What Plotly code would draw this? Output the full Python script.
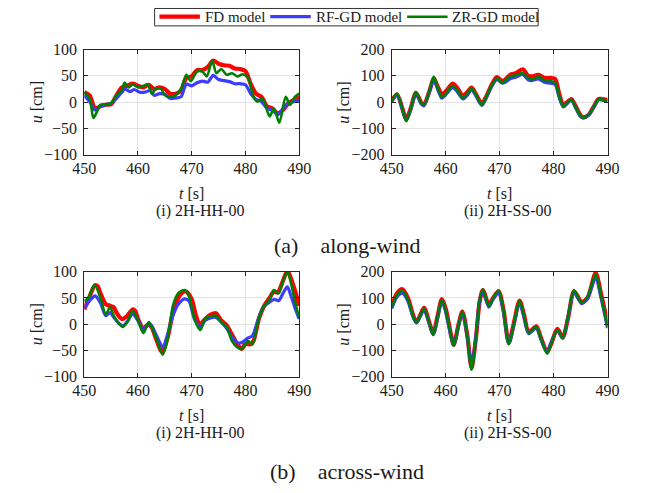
import plotly.graph_objects as go

W, H = 660, 493

# ---------------- data ----------------
# (a)(i) along-wind 2H-HH-00
t_a1_fd = [450,451,452,453,454,455,456,457,458,459,460,461,462,463,464,465,466,467,468,469,470,
           471,472,473,474,475,476,477,478,479,480,481,482,483,484,485,486,487,488,489,490]
u_a1_fd = [19,13,-12,-8,-5,-4,13,28,31,35,31,28,33,25,28,25,16,16,22,46,49,
           61,61,67,79,73,70,69,64,63,59,34,16,10,-8,-12,-21,-15,-2,4,10]
t_a1_rf = [450,451,452,453,454,455,456,457,457.6,458.5,459.3,460.3,461.3,462.3,463,464,465,466,467,468,469,470,
           471,472,473,474,475,476,477,478,479,480,481,482,483,484,485,486,487,488,489,490]
u_a1_rf = [13,1,-15,-8,-5,-2,7,19,25,20,24,19,19,22,13,16,15,7,8,10,34,31,
           37,40,38,51,43,41,39,35,35,33,16,5,1,-12,-15,-24,-12,-2,1,4]
t_a1_zr = [450,451,451.7,452.5,453,454,455,456,457,457.5,458.3,459,460,461,461.8,462.6,463.3,464.3,465,466,467,468,
           469,469.8,471,472,472.8,473.8,474.6,475.5,476.5,477.5,478.5,479.5,480.5,481.5,482.2,483,483.5,
           484.5,485.3,486.3,487.5,488.3,489.2,490]
u_a1_zr = [19,7,-30,-15,-5,-4,-2,14,22,37,28,34,28,31,34,16,25,25,13,10,13,25,
           52,40,58,58,49,79,55,63,52,55,49,53,46,10,1,7,1,
           -27,-12,-39,10,-5,10,16]

# (a)(ii) along-wind 2H-SS-00
t_a2 = [450,451,452,452.7,453.5,454.5,455.5,456,457,457.8,458.5,459.3,460,461.3,462,463.2,464,464.8,465.5,466.7,
        467.5,468.5,469.5,470.5,471,472,473,474.3,475.3,476,477.2,478.3,479.5,480.3,481,481.8,482.5,483.3,484,
        485,485.5,486.5,487.5,488.3,489,490]
u_a2_fd = [5,30,-25,-65,-25,35,-2,-8,42,90,60,30,40,70,58,25,38,55,35,-5,
           20,65,95,80,85,105,110,125,100,98,104,92,92,88,35,-10,0,12,-12,
           -50,-58,-48,-15,12,12,8]
u_a2_rf = [3,28,-30,-70,-30,33,-8,-14,40,85,50,15,28,55,44,12,26,47,28,-12,
           15,58,85,72,75,90,95,105,85,82,88,76,72,68,20,-18,-6,8,-18,
           -55,-60,-48,-18,8,8,3]
u_a2_zr = [5,32,-29,-72,-29,38,-5,-11,44,96,56,19,32,62,50,17,32,53,32,-11,
           19,62,90,74,80,98,102,110,92,86,96,82,80,74,25,-17,-5,10,-17,
           -53,-59,-47,-17,10,10,5]

# (b)(i) across-wind 2H-HH-00
t_b1_fd = [450,450.5,451,452,452.5,453,454,454.8,455.5,456,457,458,459,459.5,460,461,461.8,462.5,463.3,464.5,
           465.5,466.5,467.5,468.5,469,470,470.8,471.5,472.5,473.5,474.5,475.5,476.5,477.5,478.5,479.3,480,481,
           481.5,482.5,483.5,484.5,485.3,486,487,487.8,489,490]
u_b1_fd = [28,41,53,74,72,59,38,35,32,22,10,16,28,25,10,-8,-1,-5,-26,-53,
           -26,22,50,62,62,47,16,-1,10,18,21,7,-2,-20,-38,-47,-38,-38,
           -32,10,35,50,62,60,83,101,71,35]
t_b1 = [450,450.8,451.5,452,453,454,454.8,455.5,456.5,457.2,458,459,460,461,462,462.5,463.5,464.6,465.5,466.5,
        467.5,468.7,469.5,470.5,471.6,472.5,473.5,474.5,475.5,476.5,477.5,478.5,479.3,480.5,481.3,482.3,483.3,
        484.5,485.3,486.2,487,487.8,488.5,489.2,490]
u_b1_rf = [30,42,50,54,41,16,22,13,1,-3,5,19,7,-11,1,-2,-23,-43,-20,16,
           38,48,44,10,-5,7,12,13,4,-8,-25,-35,-35,-26,-22,7,32,
           42,47,45,59,71,53,32,10]
u_b1_zr = [44,50,68,74,50,19,32,16,1,-5,4,25,7,-17,4,-5,-29,-58,-29,35,
           59,65,53,10,-11,10,15,16,4,-5,-32,-44,-47,-32,-38,4,32,
           47,65,59,83,100,77,44,12]

# (b)(ii) across-wind 2H-SS-00
t_b2 = [450,451,452,453,454,454.6,455.3,456,457,457.7,458.5,459.3,460,461,461.5,462.4,463.1,464,464.8,465.6,
        466.3,466.9,468,468.8,469.8,470.7,471.7,472.6,473.7,474.5,475.4,476.8,477.6,478.8,479.5,480.7,481.7,
        482.7,483.8,485.2,486.3,487.8,488.8,490]
u_b2_fd = [65,118,133,100,33,8,35,62,5,-35,30,95,60,-40,-78,0,48,-40,-165,-55,
           85,130,75,100,125,58,-70,0,90,38,-30,-8,-48,-105,-78,-18,-50,
           25,125,85,100,195,115,5]
u_b2_rf = [60,105,118,88,25,5,30,55,0,-40,22,88,48,-48,-80,-6,44,-48,-160,-50,
           90,125,65,95,120,48,-74,-6,82,28,-36,-14,-54,-108,-72,-24,-54,
           30,120,78,98,175,100,-15]
u_b2_zr = [63,111,127,93,27,6,33,59,2,-40,27,93,52,-46,-82,-4,47,-46,-173,-52,
           93,132,69,99,129,51,-76,-4,89,33,-34,-10,-52,-112,-76,-22,-52,
           33,129,81,105,190,105,-10]

model_names = ["FD model", "RF-GD model", "ZR-GD model"]
model_colors = ["#ff0000", "#3c3cff", "#008000"]
model_widths = [4.2, 3.2, 2.6]

panels = [
    dict(series=[(t_a1_fd, u_a1_fd), (t_a1_rf, u_a1_rf), (t_a1_zr, u_a1_zr)],
         yr=[-100, 100], dt=50, sub="(i) 2H-HH-00"),
    dict(series=[(t_a2, u_a2_fd), (t_a2, u_a2_rf), (t_a2, u_a2_zr)],
         yr=[-200, 200], dt=100, sub="(ii) 2H-SS-00"),
    dict(series=[(t_b1_fd, u_b1_fd), (t_b1, u_b1_rf), (t_b1, u_b1_zr)],
         yr=[-100, 100], dt=50, sub="(i) 2H-HH-00"),
    dict(series=[(t_b2, u_b2_fd), (t_b2, u_b2_rf), (t_b2, u_b2_zr)],
         yr=[-200, 200], dt=100, sub="(ii) 2H-SS-00"),
]

# ---------------- layout geometry (pixels) ----------------
px_x = [(75, 298), (394, 618), (75, 298), (394, 618)]
px_y = [(43, 152), (43, 152), (273, 382), (273, 382)]

def fx(p):
    return p / W

def fy(p):
    return 1 - p / H

FONT = "Times New Roman, Liberation Serif, serif"
TXT = "#1a1a1a"

fig = go.Figure()
layout = dict(
    width=W, height=H, margin=dict(l=0, r=0, t=0, b=0),
    paper_bgcolor="white", plot_bgcolor="white",
    showlegend=False, font=dict(family=FONT, size=16, color=TXT),
)
annotations = []
shapes = []

for i, p in enumerate(panels):
    k = "" if i == 0 else str(i + 1)
    for (t, u), nm, c, w in zip(p["series"], model_names, model_colors, model_widths):
        fig.add_trace(go.Scatter(x=t, y=u, name=nm, mode="lines",
                                 line=dict(color=c, width=w, shape="spline", smoothing=0.8),
                                 xaxis="x" + k, yaxis="y" + k, showlegend=False))
    x0, x1 = px_x[i]
    y0, y1 = px_y[i]
    ax = dict(showline=True, linecolor="#262626", linewidth=1, mirror="ticks",
              ticks="inside", ticklen=4, tickcolor="#262626",
              showgrid=True, gridcolor="#e3e3e3", gridwidth=1, zeroline=False,
              tickfont=dict(family=FONT, size=16, color=TXT))
    layout["xaxis" + k] = dict(ax, domain=[fx(x0), fx(x1)], range=[450, 490], dtick=10,
                               tick0=450, anchor="y" + k, ticklabelstandoff=-1)
    layout["yaxis" + k] = dict(ax, domain=[fy(y1), fy(y0)], range=p["yr"], dtick=p["dt"],
                               anchor="x" + k, ticklabelstandoff=3)
    cx = (x0 + x1) / 2
    annotations.append(dict(text="<i>t</i> [s]", x=fx(cx), y=fy(y1 + 40), xref="paper", yref="paper",
                            showarrow=False, xanchor="center", yanchor="middle",
                            font=dict(family=FONT, size=16, color=TXT)))
    annotations.append(dict(text=p["sub"], x=fx(cx + 9), y=fy(y1 + 58), xref="paper", yref="paper",
                            showarrow=False, xanchor="center", yanchor="middle",
                            font=dict(family=FONT, size=16, color=TXT)))
    annotations.append(dict(text="<i>u</i> [cm]", x=fx(x0 - 50), y=fy((y0 + y1) / 2),
                            xref="paper", yref="paper", textangle=-90,
                            showarrow=False, xanchor="center", yanchor="middle",
                            font=dict(family=FONT, size=16, color=TXT)))

annotations.append(dict(text="(a)    along-wind", x=fx(348), y=fy(246), xref="paper", yref="paper",
                        showarrow=False, xanchor="center", yanchor="middle",
                        font=dict(family=FONT, size=22, color=TXT)))
annotations.append(dict(text="(b)    across-wind", x=fx(348), y=fy(480), xref="paper", yref="paper",
                        showarrow=False, xanchor="center", yanchor="middle",
                        font=dict(family=FONT, size=22, color=TXT)))

# legend box drawn manually
shapes.append(dict(type="rect", xref="paper", yref="paper", x0=fx(148), x1=fx(546), y0=fy(18.5), y1=fy(0.5),
                   line=dict(color="#333", width=1), fillcolor="white", layer="above"))
leg_x = [(153, 195, 198), (268, 310, 313), (410, 452, 455)]
for (a, b, tx), nm, c, w in zip(leg_x, model_names, model_colors, model_widths):
    shapes.append(dict(type="line", xref="paper", yref="paper", x0=fx(a), x1=fx(b), y0=fy(9), y1=fy(9),
                       line=dict(color=c, width=w), layer="above"))
    annotations.append(dict(text=nm, x=fx(tx), y=fy(9.5), xref="paper", yref="paper", showarrow=False,
                            xanchor="left", yanchor="middle", font=dict(family=FONT, size=15, color=TXT)))

layout["annotations"] = annotations
layout["shapes"] = shapes
fig.update_layout(**layout)
fig.write_html("out.html")
